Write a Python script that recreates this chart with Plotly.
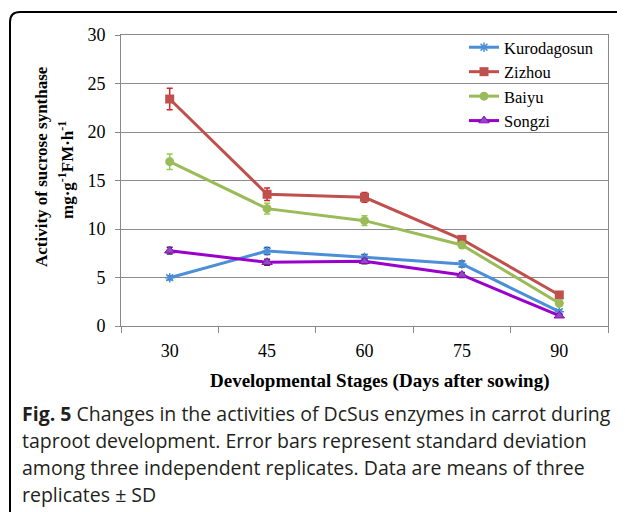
import plotly.graph_objects as go

# ---- data ----
days = ["30", "45", "60", "75", "90"]
kuro = [4.98, 7.73, 7.08, 6.39, 1.48]
kuro_sd = [0.2, 0.35, 0.3, 0.3, 0.2]
zizhou = [23.4, 13.58, 13.27, 8.93, 3.2]
zizhou_sd = [1.1, 0.65, 0.5, 0.2, 0.15]
baiyu = [16.94, 12.1, 10.86, 8.35, 2.34]
baiyu_sd = [0.8, 0.55, 0.5, 0.2, 0.15]
songzi = [7.76, 6.57, 6.67, 5.26, 1.06]
songzi_sd = [0.35, 0.3, 0.25, 0.25, 0.15]

y_ticks = [0, 5, 10, 15, 20, 25, 30]

caption_lines = [
    "<b>Fig. 5</b> Changes in the activities of DcSus enzymes in carrot during",
    "taproot development. Error bars represent standard deviation",
    "among three independent replicates. Data are means of three",
    "replicates ± SD",
]

# page body has an 8px margin; work in window pixel coordinates
OFF = 8
W, H = 625 - OFF, 512 - OFF
PL, PR, PT, PB = 121, 608, 35, 326          # plot box in window pixels
L, R, T, B = PL - OFF, W - (PR - OFF), PT - OFF, H - (PB - OFF)
PW, PH = PR - PL, PB - PT


def px(x):
    return (x - PL) / PW


def py(y):
    return (PB - y) / PH


serif = "Liberation Serif, Times New Roman, serif"

fig = go.Figure()

series = [
    ("Kurodagosun", kuro, kuro_sd, "#4a8fd8", "#2f4f7a",
     dict(symbol="asterisk-open", size=8, line=dict(color="#4a8fd8", width=1.5))),
    ("Zizhou", zizhou, zizhou_sd, "#c0504d", "#d02828",
     dict(symbol="square", size=9, color="#c0504d")),
    ("Baiyu", baiyu, baiyu_sd, "#9bbb59", "#8fcf4f",
     dict(symbol="circle", size=9, color="#9bbb59")),
    ("Songzi", songzi, songzi_sd, "#9900cc", "#333333",
     dict(symbol="triangle-up", size=9, color="#8a4fb8",
          line=dict(color="#9900cc", width=1))),
]

for name, vals, sd, col, ecol, mk in series:
    fig.add_trace(go.Scatter(
        x=days, y=vals, name=name, mode="lines+markers",
        line=dict(color=col, width=3),
        marker=mk,
        error_y=dict(type="data", array=sd, visible=True,
                     color=ecol, thickness=1.5, width=3),
    ))

fig.update_layout(
    width=W, height=H,
    margin=dict(l=L, r=R, t=T, b=B),
    paper_bgcolor="white", plot_bgcolor="white",
    showlegend=True,
    legend=dict(x=px(464), y=py(30), xanchor="left", yanchor="top",
                bgcolor="rgba(0,0,0,0)", font=dict(family=serif, size=16.5, color="black"),
                tracegroupgap=0, itemwidth=30),
    xaxis=dict(type="category", tickson="boundaries", ticks="outside", ticklen=6,
               tickcolor="#888888", showline=True, linecolor="#888888", linewidth=1,
               mirror=True, showgrid=False, range=[-0.5, 4.5],
               ticklabelstandoff=8,
               tickfont=dict(family=serif, size=18, color="black")),
    yaxis=dict(range=[0, 30], tickvals=y_ticks, ticks="outside", ticklen=5,
               tickcolor="#888888", showline=True, linecolor="#888888", linewidth=1,
               mirror=True, showgrid=True, gridcolor="#8c8c8c", gridwidth=1,
               zeroline=False, ticklabelstandoff=6,
               tickfont=dict(family=serif, size=18, color="black")),
    font=dict(family=serif, color="black"),
)

annotations = [
    dict(text="<b>Activity of sucrose synthase</b>", x=px(41), y=py(167),
         xref="paper", yref="paper", textangle=-90, showarrow=False,
         font=dict(family=serif, size=17, color="black"), xanchor="center", yanchor="middle"),
    dict(text="<b>mg·g<sup>-1</sup>FM·h<sup>-1</sup></b>", x=px(66), y=py(170),
         xref="paper", yref="paper", textangle=-90, showarrow=False,
         font=dict(family=serif, size=17, color="black"), xanchor="center", yanchor="middle"),
    dict(text="<b>Developmental Stages (Days after sowing)</b>", x=px(380), y=py(381),
         xref="paper", yref="paper", showarrow=False,
         font=dict(family=serif, size=19, color="black"), xanchor="center", yanchor="middle"),
]
for i, line in enumerate(caption_lines):
    annotations.append(dict(
        text=line, x=px(20), y=py(413 + 27 * i), xref="paper", yref="paper",
        showarrow=False, xanchor="left", yanchor="middle",
        font=dict(family="Open Sans, Noto Sans, sans-serif", size=19.5, color="#231f20")))
fig.update_layout(annotations=annotations)

# rounded frame (top and left sides)
x0, y0, rad = 10, 12, 10
path = (f"M {px(x0)} {py(520)} L {px(x0)} {py(y0 + rad)} "
        f"Q {px(x0)} {py(y0)} {px(x0 + rad)} {py(y0)} L {px(630)} {py(y0)}")
fig.add_shape(type="path", path=path, xref="paper", yref="paper",
              line=dict(color="black", width=2))

fig.write_html("out.html")
